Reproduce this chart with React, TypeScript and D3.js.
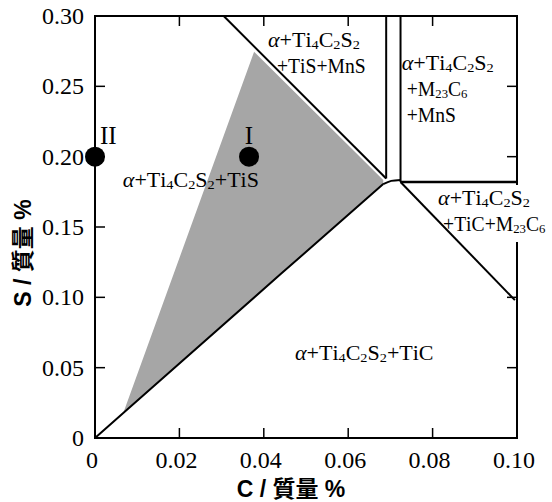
import React from "react";
import * as d3 from "d3";

// axis ticks
const xTicks = [0, 0.02, 0.04, 0.06, 0.08, 0.1];
const xTickLabels = ["0", "0.02", "0.04", "0.06", "0.08", "0.10"];
const yTicks = [0, 0.05, 0.1, 0.15, 0.2, 0.25, 0.3];
const yTickLabels = ["0", "0.05", "0.10", "0.15", "0.20", "0.25", "0.30"];

// phase boundaries, [C, S] in mass %
const lowerBoundary: [number, number][] = [
  [0, 0],
  [0.0067, 0.0178],
  [0.044, 0.1165],
  [0.0683, 0.1805],
];
const junctionCurve: [number, number][] = [
  [0.0683, 0.1805],
  [0.0702, 0.1828],
  [0.0724, 0.1835],
];
const upperBoundary: [number, number][] = [
  [0.0305, 0.3],
  [0.069, 0.1845],
];
const leftVertical: [number, number][] = [
  [0.069, 0.3],
  [0.069, 0.1845],
];
const rightVertical: [number, number][] = [
  [0.0724, 0.3],
  [0.0724, 0.182],
];
const horizontal: [number, number][] = [
  [0.0724, 0.182],
  [0.1, 0.182],
];
const rightDiagonal: [number, number][] = [
  [0.0724, 0.182],
  [0.0995, 0.098],
];
const shaded: [number, number][] = [
  [0.0067, 0.0178],
  [0.0377, 0.2745],
  [0.0683, 0.1835],
  [0.0683, 0.1805],
  [0.044, 0.1165],
];

// alloy points
const points = [
  { name: "II", c: 0, s: 0.2 },
  { name: "I", c: 0.0365, s: 0.2 },
];

// region labels: "_" marks a subscript
const regionLabels = [
  { lines: ["α+Ti_4C_2S_2+TiS"], c: 0.0066, s: 0.1782 },
  { lines: ["α+Ti_4C_2S_2", "+TiS+MnS"], c: 0.041, s: 0.2781 },
  { lines: ["α+Ti_4C_2S_2", "+M_2_3C_6", "+MnS"], c: 0.0727, s: 0.2615 },
  { lines: ["α+Ti_4C_2S_2", "+TiC+M_2_3C_6"], c: 0.0813, s: 0.1655 },
  { lines: ["α+Ti_4C_2S_2+TiC"], c: 0.0474, s: 0.0553 },
];

const W = 552;
const H = 502;
const margin = { top: 16, right: 35, bottom: 64, left: 95 };

const serif = '"Liberation Serif", "Times New Roman", Tinos, "DejaVu Serif", serif';
const sans = '"Liberation Sans", Arial, "Noto Sans CJK JP", sans-serif';

const Label = ({
  text,
  x,
  y,
  sx,
}: {
  text: string;
  x: number;
  y: number;
  sx: number;
}) => {
  const parts: React.ReactNode[] = [];
  let i = 0;
  let k = 0;
  let sub = false;
  while (i < text.length) {
    const ch = text[i];
    if (ch === "α") {
      parts.push(
        <tspan key={k++} style={{ fontStyle: "italic" }}>
          α
        </tspan>
      );
      parts.push(<tspan key={k++} dx={3}>{""}</tspan>);
      i++;
      continue;
    }
    if (ch === "_") {
      const d = text[i + 1];
      parts.push(
        <tspan key={k++} style={{ fontSize: 13 }} dy={sub ? 0 : 2}>
          {d}
        </tspan>
      );
      sub = true;
      i += 2;
      continue;
    }
    if (sub) {
      parts.push(
        <tspan key={k++} dy={-2}>
          {ch}
        </tspan>
      );
      sub = false;
    } else {
      parts.push(<tspan key={k++}>{ch}</tspan>);
    }
    i++;
  }
  return (
    <text
      transform={`translate(${x},${y}) scale(${sx},1)`}
      style={{ fontFamily: serif, fontSize: 20 }}
      fill="#000"
    >
      {parts}
    </text>
  );
};

export default function App() {
  const x = d3
    .scaleLinear()
    .domain([0, 0.1])
    .range([margin.left, W - margin.right]);
  const y = d3
    .scaleLinear()
    .domain([0, 0.3])
    .range([H - margin.bottom, margin.top]);

  const line = d3
    .line<[number, number]>()
    .x((d) => x(d[0]))
    .y((d) => y(d[1]));
  const curve = d3
    .line<[number, number]>()
    .x((d) => x(d[0]))
    .y((d) => y(d[1]))
    .curve(d3.curveNatural);

  const x0 = x(0);
  const x1 = x(0.1);
  const y0 = y(0);
  const y1 = y(0.3);
  const tl = 10;

  return (
    <svg
      width={W}
      height={H}
      style={{ position: "absolute", left: 0, top: 0, background: "#fff" }}
    >
      <path d={line(shaded) + "Z"} fill="#a6a6a6" stroke="none" />

      <path d={line(lowerBoundary) ?? ""} fill="none" stroke="#000" strokeWidth={2} />
      <path d={curve(junctionCurve) ?? ""} fill="none" stroke="#000" strokeWidth={2} />
      <path d={line(upperBoundary) ?? ""} fill="none" stroke="#000" strokeWidth={2} />
      <path d={line(leftVertical) ?? ""} fill="none" stroke="#000" strokeWidth={2} />
      <path d={line(rightVertical) ?? ""} fill="none" stroke="#000" strokeWidth={2} />
      <path d={line(horizontal) ?? ""} fill="none" stroke="#000" strokeWidth={2.5} />
      <path d={line(rightDiagonal) ?? ""} fill="none" stroke="#000" strokeWidth={2} />

      {/* frame */}
      <rect
        x={x0}
        y={y1}
        width={x1 - x0}
        height={y0 - y1}
        fill="none"
        stroke="#000"
        strokeWidth={2}
      />

      {/* inward ticks on all four sides */}
      {xTicks.slice(1, -1).map((t) => (
        <g key={"xt" + t}>
          <line x1={x(t)} x2={x(t)} y1={y0} y2={y0 - tl} stroke="#000" strokeWidth={1.5} />
          <line x1={x(t)} x2={x(t)} y1={y1} y2={y1 + tl} stroke="#000" strokeWidth={1.5} />
        </g>
      ))}
      {yTicks.slice(1, -1).map((t) => (
        <g key={"yt" + t}>
          <line x1={x0} x2={x0 + tl} y1={y(t)} y2={y(t)} stroke="#000" strokeWidth={1.5} />
          <line x1={x1} x2={x1 - tl} y1={y(t)} y2={y(t)} stroke="#000" strokeWidth={1.5} />
        </g>
      ))}

      {xTicks.map((t, i) => (
        <text
          key={"xl" + t}
          x={x(t) - 3}
          y={468}
          textAnchor="middle"
          style={{ fontFamily: serif, fontSize: 24 }}
        >
          {xTickLabels[i]}
        </text>
      ))}
      {yTicks.map((t, i) => (
        <text
          key={"yl" + t}
          x={84}
          y={y(t)}
          dy="0.34em"
          textAnchor="end"
          style={{ fontFamily: serif, fontSize: 24 }}
        >
          {yTickLabels[i]}
        </text>
      ))}

      {/* axis titles */}
      <text
        x={291}
        y={497}
        textAnchor="middle"
        style={{ fontFamily: sans, fontWeight: "bold", fontSize: 23 }}
      >
        C / 質量 %
      </text>
      <text
        transform={`translate(31, 253) rotate(-90)`}
        textAnchor="middle"
        style={{ fontFamily: sans, fontWeight: "bold", fontSize: 23 }}
      >
        S / 質量 %
      </text>

      {/* alloy points */}
      {points.map((p) => (
        <g key={p.name}>
          <circle cx={x(p.c)} cy={y(p.s)} r={10} fill="#000" />
          <text
            x={p.name === "II" ? x(p.c) + 5 : x(p.c)}
            y={y(p.s) - 13}
            textAnchor={p.name === "II" ? "start" : "middle"}
            style={{ fontFamily: serif, fontSize: 25 }}
          >
            {p.name}
          </text>
        </g>
      ))}

      {/* the lower-right label sits on a white box that hides the frame */}
      <rect x={x1 - 40} y={y(0.182) + 3} width={W - x1 + 40} height={57} fill="#fff" />

      {/* region labels, continuation lines indented */}
      {regionLabels.map((r, i) =>
        r.lines.map((ln, j) => (
          <Label
            key={i + "-" + j}
            text={ln}
            x={x(r.c) + (j > 0 ? (i === 1 ? 9 : 5) : 0)}
            y={y(r.s) + j * 26}
            sx={j > 0 ? 0.98 : 1.1}
          />
        ))
      )}
    </svg>
  );
}
